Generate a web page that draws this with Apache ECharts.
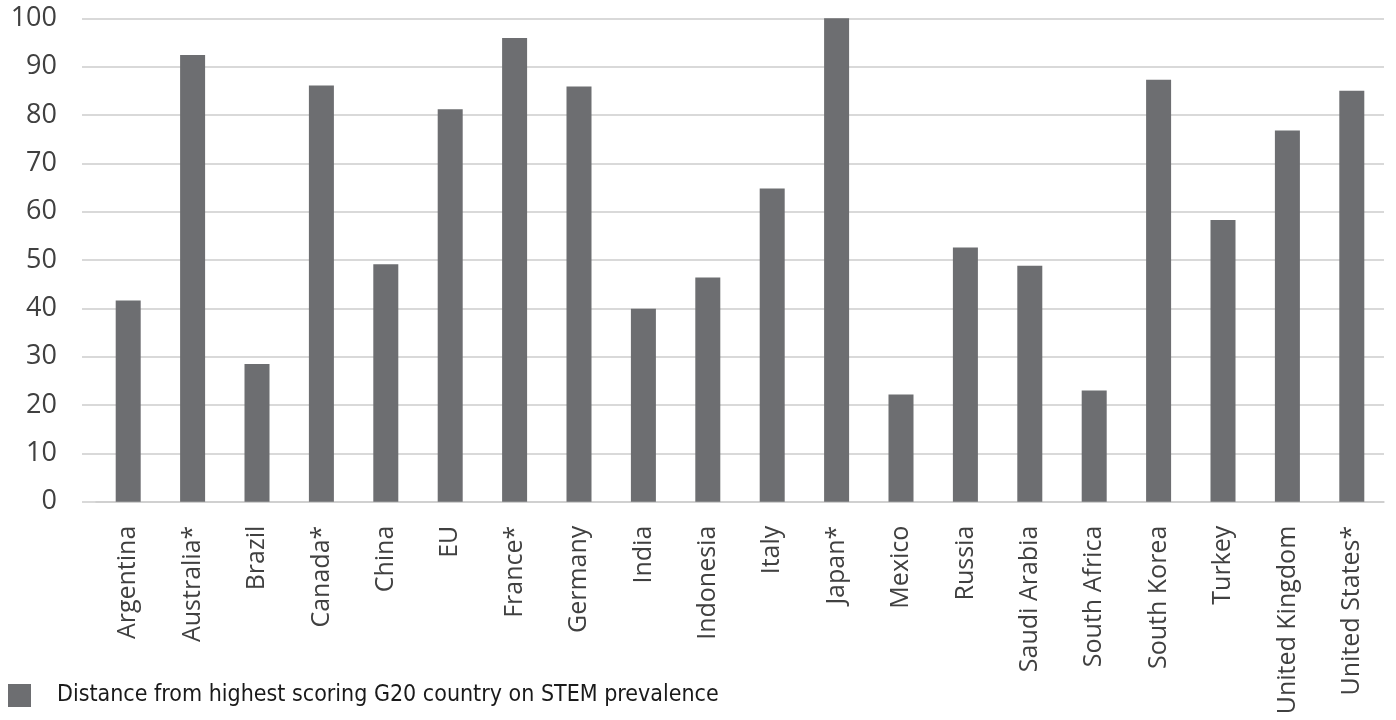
<!DOCTYPE html>
<html>
<head>
<meta charset="utf-8">
<title>STEM prevalence — G20</title>
<script src="https://cdn.jsdelivr.net/npm/echarts@6/dist/echarts.min.js"></script>
<style>
  html, body { margin: 0; padding: 0; background: #ffffff; }
  #chart { width: 1396px; height: 720px; }
</style>
</head>
<body>
<div id="chart"></div>
<script>
// G20 members and their distance from the top scorer on STEM prevalence
const countries = [
  'Argentina', 'Australia*', 'Brazil', 'Canada*', 'China', 'EU', 'France*',
  'Germany', 'India', 'Indonesia', 'Italy', 'Japan*', 'Mexico', 'Russia',
  'Saudi Arabia', 'South Africa', 'South Korea', 'Turkey', 'United Kingdom',
  'United States*'
];
const distance = [
  41.6, 92.4, 28.5, 86.1, 49.1, 81.2, 95.9,
  85.9, 39.9, 46.4, 64.8, 100, 22.2, 52.6,
  48.8, 23.0, 87.3, 58.3, 76.8,
  85.0
];
const seriesName = 'Distance from highest scoring G20 country on STEM prevalence';
const yTicks = { min: 0, max: 100, step: 10 };

const gridColor = '#cdcdcd';
const barColor = '#6d6e71';

const chart = echarts.init(document.getElementById('chart'), null, { renderer: 'canvas' });
chart.setOption({
  animation: false,
  backgroundColor: '#ffffff',
  grid: { left: 96, right: 12, top: 18.3, bottom: 218.3, containLabel: false },
  legend: {
    show: true,
    left: 8,
    top: 684,
    padding: 0,
    icon: 'rect',
    itemWidth: 23,
    itemHeight: 23,
    textStyle: {
      fontFamily: '"DejaVu Sans Condensed", "Liberation Sans Narrow", sans-serif',
      fontSize: 23,
      color: '#1a1a1a',
      padding: [0, 0, 0, 21]
    },
    data: [seriesName]
  },
  xAxis: {
    type: 'category',
    data: countries,
    axisLine: { show: true, lineStyle: { color: gridColor, width: 1.5 } },
    axisTick: { show: false },
    axisLabel: {
      rotate: 90,
      margin: 24,
      interval: 0,
      fontFamily: '"Open Sans", sans-serif',
      fontSize: 25,
      color: '#404040'
    }
  },
  yAxis: {
    type: 'value',
    min: yTicks.min,
    max: yTicks.max,
    interval: yTicks.step,
    axisLine: { show: false },
    axisTick: { show: true, length: 14, lineStyle: { color: gridColor, width: 1.5 } },
    splitLine: { show: true, lineStyle: { color: gridColor, width: 1.5 } },
    axisLabel: {
      margin: 39,
      fontFamily: '"Open Sans", sans-serif',
      fontSize: 27,
      color: '#404040'
    }
  },
  series: [{
    name: seriesName,
    type: 'bar',
    data: distance,
    barWidth: 25,
    itemStyle: { color: barColor }
  }]
});
</script>
</body>
</html>
